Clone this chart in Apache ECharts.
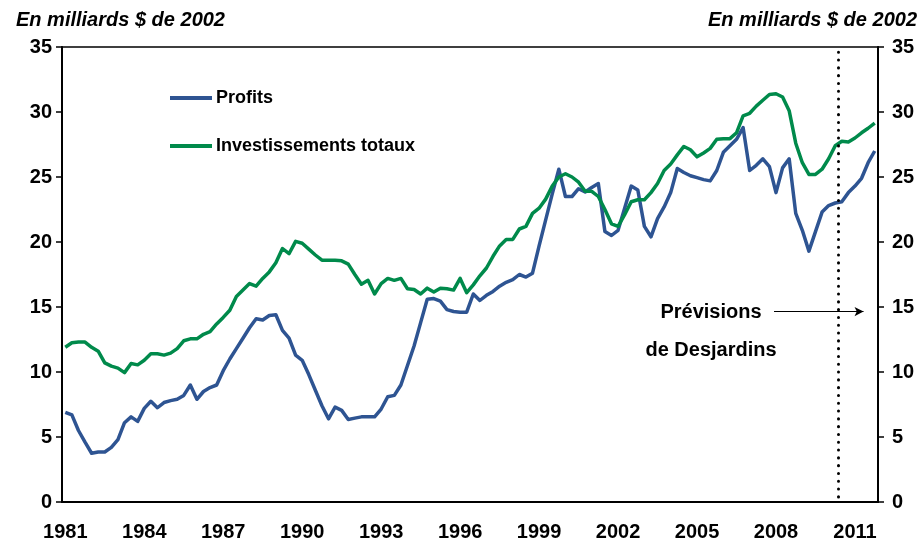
<!DOCTYPE html>
<html>
<head>
<meta charset="utf-8">
<script src="https://cdn.jsdelivr.net/npm/echarts@6/dist/echarts.min.js"></script>
<style>
  html, body { margin: 0; padding: 0; background: #fff; }
  #chart { width: 924px; height: 541px; }
</style>
</head>
<body>
<div id="chart"></div>
<script>
// Quarterly periods, 1981 T1 to 2011 T4
const firstYear = 1981;
const lastYear = 2011;
const quarters = [];
for (let y = firstYear; y <= lastYear; y++) {
  for (let q = 1; q <= 4; q++) quarters.push(y + 'T' + q);
}

const unitLabel = 'En milliards $ de 2002';
const seriesNames = ['Profits', 'Investissements totaux'];

// Profits (billions of 2002 dollars)
const profits = [
  6.9, 6.7, 5.5, 4.6, 3.75, 3.85, 3.85, 4.2, 4.8, 6.1,
  6.55, 6.2, 7.2, 7.75, 7.25, 7.65, 7.8, 7.9, 8.2, 9.0,
  7.9, 8.5, 8.8, 9.0, 10.1, 11.0, 11.8, 12.6, 13.4, 14.1,
  14.0, 14.35, 14.4, 13.2, 12.6, 11.3, 10.9, 9.8, 8.6, 7.4,
  6.4, 7.3, 7.05, 6.35, 6.45, 6.55, 6.55, 6.55, 7.15, 8.1,
  8.2, 9.0, 10.5, 12.0, 13.8, 15.6, 15.65, 15.45, 14.8, 14.65,
  14.6, 14.6, 16.0, 15.5, 15.9, 16.2, 16.6, 16.9, 17.1, 17.5,
  17.3, 17.6, 19.7, 21.7, 23.7, 25.6, 23.5, 23.5, 24.1, 23.85,
  24.2, 24.5, 20.8, 20.5, 20.9, 22.6, 24.3, 24.0, 21.2, 20.4,
  21.8, 22.7, 23.8, 25.65, 25.35, 25.1, 24.95, 24.8, 24.7, 25.5,
  26.9, 27.4, 27.9, 28.8, 25.5, 25.9, 26.4, 25.8, 23.8, 25.7,
  26.4, 22.2, 20.9, 19.3, 20.8, 22.3, 22.8, 23.0, 23.1, 23.8,
  24.3, 24.9, 26.1, 27.0
];

// Total investment (billions of 2002 dollars)
const investissements = [
  11.9, 12.25, 12.3, 12.3, 11.9, 11.6, 10.7, 10.45, 10.3, 9.95,
  10.65, 10.55, 10.9, 11.4, 11.4, 11.3, 11.45, 11.8, 12.4, 12.55,
  12.55, 12.9, 13.1, 13.7, 14.2, 14.75, 15.8, 16.3, 16.8, 16.6,
  17.2, 17.7, 18.4, 19.5, 19.1, 20.05, 19.9, 19.45, 19.0, 18.6,
  18.6, 18.6, 18.55, 18.3, 17.5, 16.75, 17.05, 16.0, 16.8, 17.2,
  17.05, 17.2, 16.4, 16.35, 16.0, 16.45, 16.15, 16.45, 16.4, 16.3,
  17.2, 16.1, 16.7, 17.4, 18.0, 18.9, 19.7, 20.2, 20.2, 21.0,
  21.2, 22.2, 22.6, 23.3, 24.3, 25.0, 25.25, 25.0, 24.6, 23.9,
  23.9, 23.5, 22.5, 21.4, 21.2, 22.1, 23.1, 23.25, 23.25, 23.8,
  24.5, 25.5, 26.0, 26.7, 27.35, 27.1, 26.55, 26.85, 27.2, 27.9,
  27.95, 27.95, 28.4, 29.7, 29.9, 30.45, 30.9, 31.35, 31.4, 31.15,
  30.1, 27.6, 26.1, 25.2, 25.2, 25.6, 26.4, 27.4, 27.75, 27.7,
  28.0, 28.4, 28.75, 29.15
];

// Start of the forecast period (between 2010 T2 and 2010 T3)
const forecastStart = 117.5;
const forecastLabel = ['Prévisions', 'de Desjardins'];
const arrowLevel = 14.65;
const arrowFrom = 107.7;
const arrowTo = 121.3;

const yMin = 0, yMax = 35, yStep = 5;

const FONT = '"Liberation Sans", Arial, sans-serif';
const BLUE = '#2E5492';
const GREEN = '#008A4B';

const chart = echarts.init(document.getElementById('chart'), null, { renderer: 'canvas' });

const yAxisCommon = {
  type: 'value',
  min: yMin, max: yMax, interval: yStep,
  splitLine: { show: false },
  axisLine: { show: true, onZero: false, lineStyle: { color: '#000', width: 2 } },
  axisTick: { show: true, inside: false, length: 6, lineStyle: { color: '#000', width: 1.5 } },
  axisLabel: { color: '#000', fontFamily: FONT, fontWeight: 'bold', fontSize: 20 }
};

chart.setOption({
  animation: false,
  backgroundColor: '#fff',
  grid: {
    left: 62, right: 46, top: 47, bottom: 39,
    outerBoundsMode: 'none',
    containLabel: false,
    show: true, borderColor: '#000', borderWidth: 1.5, backgroundColor: 'transparent'
  },
  legend: {
    data: seriesNames,
    orient: 'vertical',
    left: 165, top: 83,
    itemWidth: 42, itemHeight: 4, itemGap: 28,
    icon: 'rect',
    textStyle: { color: '#000', fontFamily: FONT, fontWeight: 'bold', fontSize: 18, lineHeight: 20, padding: [0, 0, 0, -1] }
  },
  xAxis: [
    {
      type: 'category',
      data: quarters,
      boundaryGap: true,
      axisLine: { show: true, onZero: false, lineStyle: { color: '#000', width: 2 } },
      axisTick: { show: false },
      axisLabel: {
        interval: (i) => i % 12 === 0,
        formatter: (v) => v.slice(0, 4),
        color: '#000', fontFamily: FONT, fontWeight: 'bold', fontSize: 20, margin: 20
      },
      splitLine: { show: false }
    },
    {
      type: 'value',
      min: -0.5, max: quarters.length - 0.5,
      show: false
    }
  ],
  yAxis: [
    Object.assign({}, yAxisCommon, { position: 'left', axisLabel: Object.assign({}, yAxisCommon.axisLabel, { margin: 10 }) }),
    Object.assign({}, yAxisCommon, { position: 'right', axisLabel: Object.assign({}, yAxisCommon.axisLabel, { margin: 14 }) })
  ],
  series: [
    {
      name: seriesNames[0], type: 'line', data: profits,
      xAxisIndex: 0, yAxisIndex: 0,
      showSymbol: false, symbol: 'none',
      lineStyle: { color: BLUE, width: 3.5, join: 'round' },
      itemStyle: { color: BLUE }
    },
    {
      name: seriesNames[1], type: 'line', data: investissements,
      xAxisIndex: 0, yAxisIndex: 0,
      showSymbol: false, symbol: 'none',
      lineStyle: { color: GREEN, width: 3.5, join: 'round' },
      itemStyle: { color: GREEN }
    },
    {
      // forecast divider and arrow
      type: 'line', data: [],
      xAxisIndex: 1, yAxisIndex: 0,
      silent: true,
      markLine: {
        silent: true,
        animation: false,
        label: { show: false },
        emphasis: { disabled: true },
        data: [
          [
            { coord: [forecastStart, 34.6], symbol: 'none', lineStyle: { color: '#000', width: 3, type: [0.1, 7.7], cap: 'round' } },
            { coord: [forecastStart, yMin], symbol: 'none' }
          ],
          [
            { coord: [arrowFrom, arrowLevel], symbol: 'none', lineStyle: { color: '#000', width: 1, type: 'solid' } },
            { coord: [arrowTo, arrowLevel], symbol: 'arrow', symbolSize: [7, 9] }
          ]
        ]
      }
    }
  ],
  graphic: [
    {
      type: 'text', left: 16, top: 10,
      style: { text: unitLabel, fill: '#000', fontFamily: FONT, fontWeight: 'bold', fontStyle: 'italic', fontSize: 20 }
    },
    {
      type: 'text', right: 7, top: 10,
      style: { text: unitLabel, fill: '#000', fontFamily: FONT, fontWeight: 'bold', fontStyle: 'italic', fontSize: 20 }
    },
    {
      type: 'text', x: 711, y: 312,
      style: { text: forecastLabel[0], fill: '#000', fontFamily: FONT, fontWeight: 'bold', fontSize: 20, align: 'center', verticalAlign: 'middle' }
    },
    {
      type: 'text', x: 711, y: 350,
      style: { text: forecastLabel[1], fill: '#000', fontFamily: FONT, fontWeight: 'bold', fontSize: 20, align: 'center', verticalAlign: 'middle' }
    }
  ]
});
</script>
</body>
</html>
